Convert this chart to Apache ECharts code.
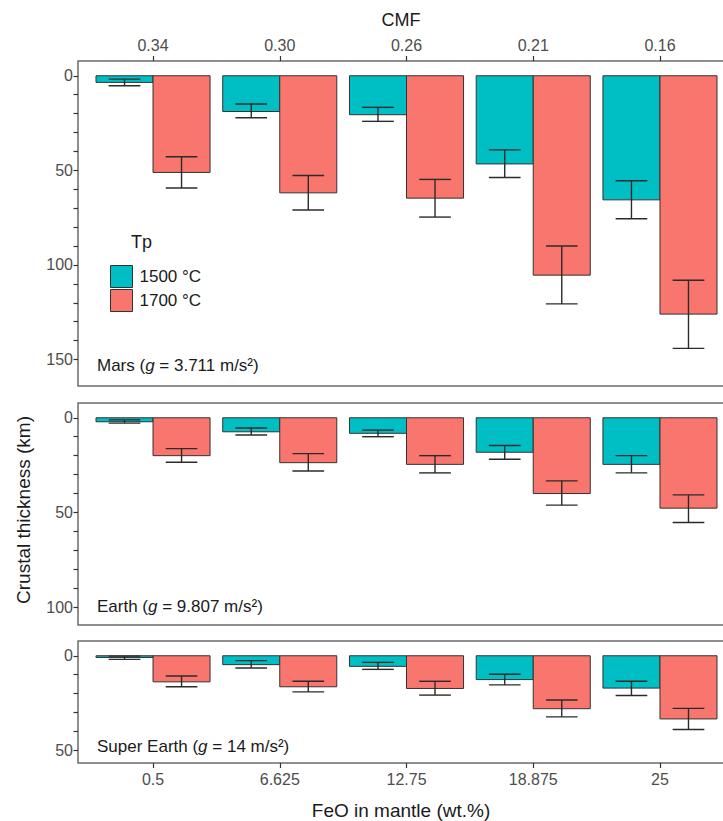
<!DOCTYPE html>
<html>
<head>
<meta charset="utf-8">
<title>Crustal thickness</title>
<script src="https://cdn.jsdelivr.net/npm/echarts@6/dist/echarts.min.js"></script>
<style>
  html, body { margin: 0; padding: 0; background: #fff; }
  #chart { width: 723px; height: 821px; }
</style>
</head>
<body>
<div id="chart"></div>
<script>
// categories
var feo = ['0.5', '6.625', '12.75', '18.875', '25'];
var cmf = ['0.34', '0.30', '0.26', '0.21', '0.16'];
var temps = ['1500 °C', '1700 °C'];
var colors = ['#00BFC4', '#F8766D'];

// Mars
var mars1500 = [3.5, 18.9, 20.6, 46.6, 65.6];
var mars1500Lo = [1.8, 14.9, 16.7, 39.2, 55.5];
var mars1500Hi = [5.3, 22.2, 24.1, 53.8, 75.6];
var mars1700 = [51.1, 61.9, 64.7, 105.4, 126.0];
var mars1700Lo = [42.8, 52.7, 54.8, 90.0, 108.1];
var mars1700Hi = [59.3, 71.0, 74.7, 120.6, 144.1];

// Earth
var earth1500 = [2.1, 7.4, 8.2, 18.2, 24.6];
var earth1500Lo = [1.1, 5.4, 6.5, 14.6, 20.0];
var earth1500Hi = [2.8, 9.1, 10.0, 21.9, 29.1];
var earth1700 = [20.0, 23.7, 24.6, 40.0, 47.7];
var earth1700Lo = [16.3, 18.9, 20.0, 33.3, 40.7];
var earth1700Hi = [23.5, 28.1, 29.1, 46.1, 55.3];

// Super Earth
var super1500 = [0.9, 4.7, 5.6, 12.6, 17.1];
var super1500Lo = [0.2, 2.6, 3.5, 9.8, 13.5];
var super1500Hi = [1.9, 6.5, 7.2, 15.4, 21.0];
var super1700 = [13.8, 16.4, 17.3, 28.0, 33.4];
var super1700Lo = [10.7, 13.5, 13.5, 23.4, 27.8];
var super1700Hi = [16.4, 19.1, 20.8, 32.3, 39.0];

// y ticks
var marsTicks = [0, 10, 20, 30, 40, 50, 60, 70, 80, 90, 100, 110, 120, 130, 140, 150];
var marsLabels = [0, 50, 100, 150];
var earthTicks = [0, 10, 20, 30, 40, 50, 60, 70, 80, 90, 100];
var earthLabels = [0, 50, 100];
var superTicks = [0, 10, 20, 30, 40, 50];
var superLabels = [0, 50];
var xTicks = [0, 1, 2, 3, 4];

var FONT = '"Liberation Sans", Arial, sans-serif';

var myChart = echarts.init(document.getElementById('chart'), null, { renderer: 'svg' });

function rows(v, lo, hi) {
    var out = [];
    for (var i = 0; i < v.length; i++) {
        out.push([i, v[i], lo[i], hi[i]]);
    }
    return out;
}

// bar + error bar, dodged by offset
function makeRender(offset, color) {
    return function (params, api) {
        var x = api.value(0) + offset;
        var p0 = api.coord([x - 0.225, 0]);
        var p1 = api.coord([x + 0.225, api.value(1)]);
        var lo = api.coord([x, api.value(2)]);
        var hi = api.coord([x, api.value(3)]);
        var cl = api.coord([x - 0.125, 0])[0];
        var cr = api.coord([x + 0.125, 0])[0];
        var line = { stroke: '#2b2b2b', lineWidth: 1.4 };
        return {
            type: 'group',
            children: [
                { type: 'rect', shape: { x: p0[0], y: p0[1], width: p1[0] - p0[0], height: p1[1] - p0[1] },
                  style: { fill: color, stroke: '#333', lineWidth: 1 } },
                { type: 'line', shape: { x1: lo[0], y1: lo[1], x2: hi[0], y2: hi[1] }, style: line },
                { type: 'line', shape: { x1: cl, y1: lo[1], x2: cr, y2: lo[1] }, style: line },
                { type: 'line', shape: { x1: cl, y1: hi[1], x2: cr, y2: hi[1] }, style: line }
            ]
        };
    };
}

function series(gridIndex, k, data) {
    return {
        name: temps[k],
        type: 'custom',
        xAxisIndex: gridIndex,
        yAxisIndex: gridIndex,
        itemStyle: { color: colors[k], borderColor: '#333', borderWidth: 1 },
        renderItem: makeRender(k === 0 ? -0.225 : 0.225, colors[k]),
        data: data
    };
}

function yAxis(gridIndex, max, ticks, labels) {
    return {
        type: 'value',
        gridIndex: gridIndex,
        position: 'left',
        inverse: true,
        min: -7.8,
        max: max,
        axisLine: { show: false, onZero: false },
        splitLine: { show: false },
        axisTick: { show: true, length: 4.5, customValues: ticks, lineStyle: { color: '#333', width: 1.2 } },
        axisLabel: { customValues: labels, margin: 5, fontSize: 16, color: '#4d4d4d', fontFamily: FONT }
    };
}

function xAxis(gridIndex, position, names) {
    return {
        type: 'value',
        gridIndex: gridIndex,
        position: position,
        min: -0.592,
        max: 4.592,
        axisLine: { show: false, onZero: false },
        splitLine: { show: false },
        axisTick: { show: !!names, length: 5, customValues: xTicks, lineStyle: { color: '#333', width: 1.2 } },
        axisLabel: {
            show: !!names,
            customValues: xTicks,
            margin: 8,
            fontSize: 16,
            color: '#4d4d4d',
            fontFamily: FONT,
            formatter: function (v) { return names ? names[Math.round(v)] : ''; }
        }
    };
}

var gridStyle = { show: true, borderColor: '#6b6b6b', borderWidth: 1.5, left: 78, width: 657, outerBoundsMode: 'none', containLabel: false };

function panelLabel(top, name, g) {
    return {
        type: 'text',
        left: 97,
        top: top,
        style: {
            text: '{a|' + name + ' (}{i|g}{a| = ' + g + ' m/s²)}',
            rich: {
                a: { fontSize: 17, fontFamily: FONT, fill: '#1a1a1a' },
                i: { fontSize: 17, fontFamily: FONT, fontStyle: 'italic', fill: '#1a1a1a' }
            }
        }
    };
}

var option = {
    animation: false,
    backgroundColor: '#fff',
    grid: [
        Object.assign({ top: 61, height: 325 }, gridStyle),
        Object.assign({ top: 403, height: 222 }, gridStyle),
        Object.assign({ top: 641, height: 122 }, gridStyle)
    ],
    xAxis: [
        xAxis(0, 'top', cmf),
        xAxis(1, 'bottom', null),
        xAxis(2, 'bottom', feo)
    ],
    yAxis: [
        yAxis(0, 164, marsTicks, marsLabels),
        yAxis(1, 109.4, earthTicks, earthLabels),
        yAxis(2, 56.7, superTicks, superLabels)
    ],
    legend: {
        orient: 'vertical',
        left: 105,
        top: 260,
        itemWidth: 22,
        itemHeight: 22,
        itemGap: 1,
        icon: 'rect',
        selectedMode: false,
        textStyle: { fontSize: 17, color: '#1a1a1a', fontFamily: FONT, padding: [0, 0, 0, 2] },
        data: [
            { name: temps[0], itemStyle: { color: colors[0], borderColor: '#333', borderWidth: 1 } },
            { name: temps[1], itemStyle: { color: colors[1], borderColor: '#333', borderWidth: 1 } }
        ]
    },
    graphic: [
        { type: 'text', left: 131, top: 233, style: { text: 'Tp', fontSize: 18, fontFamily: FONT, fill: '#1a1a1a' } },
        { type: 'text', x: 401, y: 20, style: { text: 'CMF', fontSize: 18, fontFamily: FONT, fill: '#1a1a1a', align: 'center', verticalAlign: 'middle' } },
        { type: 'text', x: 401, y: 810, style: { text: 'FeO in mantle (wt.%)', fontSize: 19, fontFamily: FONT, fill: '#1a1a1a', align: 'center', verticalAlign: 'middle' } },
        { type: 'text', x: 23, y: 510, rotation: Math.PI / 2, style: { text: 'Crustal thickness (km)', fontSize: 19, fontFamily: FONT, fill: '#1a1a1a', align: 'center', verticalAlign: 'middle' } },
        panelLabel(357, 'Mars', '3.711'),
        panelLabel(598, 'Earth', '9.807'),
        panelLabel(738, 'Super Earth', '14')
    ],
    series: [
        series(0, 0, rows(mars1500, mars1500Lo, mars1500Hi)),
        series(0, 1, rows(mars1700, mars1700Lo, mars1700Hi)),
        series(1, 0, rows(earth1500, earth1500Lo, earth1500Hi)),
        series(1, 1, rows(earth1700, earth1700Lo, earth1700Hi)),
        series(2, 0, rows(super1500, super1500Lo, super1500Hi)),
        series(2, 1, rows(super1700, super1700Lo, super1700Hi))
    ]
};

myChart.setOption(option);
window.addEventListener('resize', function () {
    myChart.resize();
});
</script>
</body>
</html>
